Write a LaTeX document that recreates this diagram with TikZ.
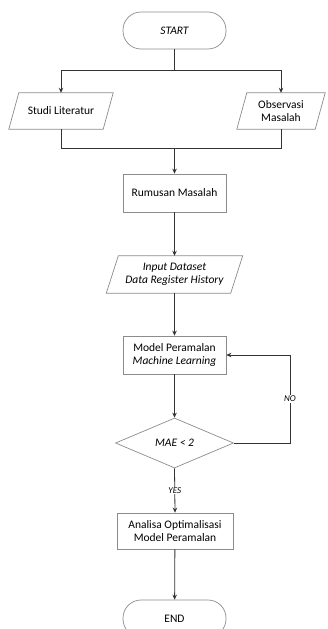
\documentclass[tikz,border=0pt]{standalone}
\usepackage{fontspec}
\setmainfont{Carlito}
\usetikzlibrary{shapes.geometric,arrows.meta}
\tikzset{
  box/.style={draw=black!45, line width=0.7pt, minimum width=103pt, minimum height=38pt, inner sep=1pt, align=center, font=\fontsize{11.5}{13.5}\selectfont},
  term/.style={box, rounded corners=18pt, minimum height=37pt},
  iotext/.style={minimum height=36pt, inner sep=1pt, align=center, font=\fontsize{11.5}{13.5}\selectfont},
  dec/.style={diamond, draw=black!45, line width=0.7pt, minimum width=118pt, minimum height=50pt, inner sep=0pt, font=\fontsize{11.5}{13.5}\selectfont\itshape},
  io/.style={draw=black!45, line width=0.7pt},
  conn/.style={draw=black!80, line width=0.8pt},
  arr/.style={conn, -{Stealth[length=5pt,width=4.5pt]}},
  lbl/.style={fill=white, inner sep=1pt, font=\fontsize{9}{10}\selectfont\itshape}
}
\begin{document}
\begin{tikzpicture}[x=1pt,y=-1pt]
\clip (0,0) rectangle (327,629);
\fill[white] (0,0) rectangle (327,629);

\node[term] (start) at (174.5,30.5) {\itshape START};
\coordinate (split) at (174.5,70);

\node[iotext, minimum width=94pt] (studi) at (61,111) {Studi Literatur};
\draw[io] ([xshift=5pt]studi.north west) -- ([xshift=5pt]studi.north east) -- ([xshift=-5pt]studi.south east) -- ([xshift=-5pt]studi.south west) -- cycle;

\node[iotext, minimum width=78pt] (obs) at (281,111) {Observasi\\Masalah};
\draw[io] ([xshift=5pt]obs.north west) -- ([xshift=5pt]obs.north east) -- ([xshift=-5pt]obs.south east) -- ([xshift=-5pt]obs.south west) -- cycle;

\coordinate (join) at (174.5,148);

\node[box] (rum) at (174.5,193) {Rumusan Masalah};

\node[iotext, minimum width=124pt, minimum height=37pt] (inp) at (174.5,274.5) {\itshape Input Dataset\\\itshape Data Register History};
\draw[io] ([xshift=6pt]inp.north west) -- ([xshift=6pt]inp.north east) -- ([xshift=-6pt]inp.south east) -- ([xshift=-6pt]inp.south west) -- cycle;

\node[box] (model) at (174.5,355) {Model Peramalan\\\itshape Machine Learning};

\node[dec] (mae) at (174.5,443) {MAE < 2};

\node[box, minimum width=116pt, minimum height=36pt] (ana) at (175,531) {Analisa Optimalisasi\\Model Peramalan};

\node[term] (end) at (174.5,618.5) {END};

\coordinate (loop) at (290,443);

% connectors
\draw[conn] (start) -- (split);
\draw[arr] (split) -| (studi.north);
\draw[arr] (split) -| (obs.north);
\draw[conn] (studi.south) |- (join);
\draw[conn] (obs.south) |- (join);
\draw[arr] (join) -- (rum);
\draw[arr] (rum) -- (inp);
\draw[arr] (inp) -- (model);
\draw[arr] (model) -- (mae);
\draw[arr] (mae.east) -- (loop) |- (model.east) node[lbl, pos=0.25] {NO};
\draw[arr] (mae.south) -- (ana.north) node[lbl, midway] {YES};
\draw[arr] (ana) -- (end);
\end{tikzpicture}
\end{document}
